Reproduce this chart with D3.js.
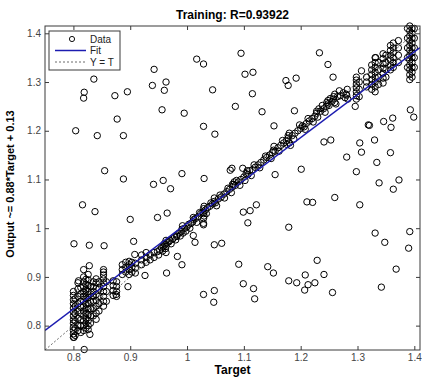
<!DOCTYPE html>
<html>
<head>
<meta charset="utf-8">
<script src="https://cdn.jsdelivr.net/npm/d3@7"></script>
<style>
  body { margin: 0; background: #fff; }
  text { font-family: "Liberation Sans", Arial, sans-serif; }
</style>
</head>
<body>
<div id="chart"></div>
<script>
// Points far from the fit line [target, output]
var outlierPts = [
  [1.017, 1.347], [1.029, 1.337], [0.942, 1.326], [0.836, 1.306], [0.819, 1.279],
  [0.818, 1.267], [0.873, 1.272], [0.895, 1.280], [0.939, 1.293], [0.963, 1.300],
  [0.960, 1.283], [0.956, 1.243], [0.995, 1.236], [0.877, 1.224], [1.045, 1.284],
  [1.095, 1.359], [1.233, 1.360], [1.248, 1.336], [1.102, 1.316], [1.116, 1.320],
  [1.174, 1.303], [1.178, 1.293], [1.192, 1.308], [1.257, 1.310], [1.115, 1.276],
  [1.085, 1.250], [1.132, 1.239], [1.189, 1.241], [1.307, 1.323], [1.332, 1.350],
  [1.296, 1.250], [1.393, 1.243], [1.399, 1.228], [1.362, 1.226], [1.346, 1.219],
  [1.319, 1.212], [1.359, 1.207], [0.804, 1.200], [0.842, 1.190], [0.888, 1.190],
  [1.029, 1.209], [0.855, 1.118], [0.888, 1.101], [0.941, 1.090], [0.958, 1.098],
  [0.971, 1.081], [0.991, 1.112], [1.030, 1.102], [0.816, 1.048], [0.838, 1.034],
  [0.900, 1.018], [0.948, 1.022], [0.965, 1.031], [0.801, 0.968], [0.828, 0.965],
  [0.854, 0.964], [0.906, 0.973], [1.011, 0.985], [1.014, 0.971], [1.153, 1.210],
  [1.049, 1.193], [1.321, 1.211], [1.241, 1.177], [1.253, 1.181], [1.304, 1.175],
  [1.330, 1.181], [1.307, 1.156], [1.358, 1.155], [1.281, 1.146], [1.334, 1.135],
  [1.201, 1.121], [1.298, 1.116], [1.155, 1.110], [1.079, 1.123], [1.076, 1.119],
  [1.098, 1.123], [1.338, 1.093], [1.373, 1.099], [1.363, 1.080], [1.260, 1.063],
  [1.211, 1.054], [1.221, 1.053], [1.304, 1.048], [1.122, 1.048], [1.111, 1.036],
  [1.099, 1.033], [1.107, 1.011], [1.179, 1.002], [1.331, 0.990], [1.348, 0.971],
  [1.392, 0.993], [1.390, 0.959], [1.061, 0.969], [1.048, 0.966], [0.908, 0.946],
  [0.963, 0.950], [0.983, 0.942], [0.991, 0.925], [0.964, 0.908], [0.926, 0.903],
  [1.029, 0.864], [0.809, 0.892], [0.896, 0.880], [0.875, 0.864], [0.829, 0.782],
  [0.819, 0.751], [0.801, 0.776], [0.828, 0.923], [0.826, 0.905], [1.091, 0.926],
  [1.142, 0.921], [1.152, 0.908], [1.229, 0.934], [1.099, 0.886], [1.117, 0.876],
  [1.119, 0.855], [1.048, 0.872], [1.047, 0.848], [1.179, 0.892], [1.193, 0.888],
  [1.208, 0.904], [1.207, 0.873], [1.213, 0.884], [1.225, 0.888], [1.241, 0.905],
  [1.256, 0.868], [1.342, 0.879], [1.368, 0.916], [1.029, 1.007], [0.982, 0.983]
];

// Dense columns near the line: [target, outputs]
var bandCols = [
  [0.800, [0.776, 0.783, 0.790, 0.797, 0.805, 0.812, 0.820, 0.828, 0.836, 0.845, 0.853, 0.862, 0.870]],
  [0.803, [0.780, 0.795, 0.810, 0.825, 0.840, 0.855]],
  [0.808, [0.790, 0.800, 0.815, 0.830, 0.845, 0.860, 0.875, 0.888]],
  [0.813, [0.786, 0.800, 0.812, 0.825, 0.838, 0.850, 0.865, 0.878]],
  [0.818, [0.790, 0.800, 0.810, 0.820, 0.830, 0.840, 0.850, 0.860, 0.870, 0.880, 0.890, 0.900, 0.915]],
  [0.822, [0.795, 0.805, 0.815, 0.825, 0.835, 0.845, 0.855, 0.865, 0.875, 0.885, 0.895]],
  [0.826, [0.792, 0.800, 0.810, 0.822, 0.834, 0.846, 0.858, 0.870, 0.882, 0.894]],
  [0.830, [0.805, 0.820, 0.835, 0.850, 0.865, 0.880]],
  [0.835, [0.820, 0.835, 0.850, 0.860, 0.870, 0.880, 0.890]],
  [0.840, [0.813, 0.826, 0.840, 0.852, 0.864, 0.876, 0.888, 0.896]],
  [0.845, [0.830, 0.845, 0.860, 0.875, 0.890]],
  [0.853, [0.840, 0.850, 0.860, 0.870, 0.880, 0.888, 0.896, 0.904, 0.910, 0.915]],
  [0.858, [0.850, 0.870, 0.890]],
  [0.870, [0.862, 0.872, 0.882, 0.892]],
  [0.876, [0.860, 0.870, 0.880, 0.890]],
  [0.886, [0.905, 0.915, 0.925]],
  [0.892, [0.910, 0.920, 0.930]],
  [0.898, [0.905, 0.915, 0.925, 0.932]],
  [0.903, [0.910, 0.920, 0.930]],
  [0.909, [0.908, 0.918, 0.928]],
  [0.920, [0.925, 0.935, 0.945]],
  [0.928, [0.930, 0.940, 0.950]],
  [0.935, [0.935, 0.945]],
  [0.942, [0.940, 0.950]],
  [1.298, [1.265, 1.272, 1.280, 1.288, 1.296, 1.304, 1.310]],
  [1.303, [1.270, 1.285, 1.300]],
  [1.316, [1.290, 1.300, 1.310]],
  [1.325, [1.285, 1.295, 1.305, 1.315, 1.325, 1.335]],
  [1.331, [1.280, 1.290, 1.300, 1.310, 1.320, 1.330, 1.340, 1.350]],
  [1.337, [1.295, 1.310, 1.325, 1.340]],
  [1.345, [1.298, 1.308, 1.318, 1.328, 1.338, 1.348, 1.358]],
  [1.350, [1.310, 1.325, 1.340, 1.355]],
  [1.358, [1.325, 1.335, 1.345, 1.355, 1.365, 1.375]],
  [1.363, [1.330, 1.340, 1.350, 1.360, 1.370, 1.380]],
  [1.372, [1.340, 1.355, 1.370, 1.385]],
  [1.388, [1.330, 1.350, 1.370, 1.390, 1.410]],
  [1.392, [1.305, 1.315, 1.325, 1.335, 1.345, 1.355, 1.365, 1.375, 1.385, 1.395, 1.405, 1.415]],
  [1.396, [1.310, 1.320, 1.330, 1.340, 1.350, 1.360, 1.370, 1.380, 1.390, 1.400, 1.410]],
  [1.400, [1.330, 1.350, 1.370, 1.390, 1.410]]
];

// Points along the middle of the band [target, output]
var bandPts = [
  [0.948, 0.952], [0.952, 0.955], [0.955, 0.960], [0.958, 0.962], [0.961, 0.966],
  [0.962, 0.958], [0.960, 0.968], [0.963, 0.963], [0.965, 0.970], [0.968, 0.972],
  [0.970, 0.975], [0.975, 0.978], [0.978, 0.982], [0.982, 0.986], [0.986, 0.990],
  [0.990, 0.993], [0.991, 0.998], [0.993, 0.990], [0.996, 1.000], [1.000, 1.003],
  [1.003, 1.008], [1.007, 1.010], [1.010, 1.013], [1.012, 1.018], [1.015, 1.020],
  [1.020, 1.024], [1.024, 1.030], [1.028, 1.033], [1.029, 1.040], [1.030, 1.025],
  [1.029, 1.020], [1.029, 1.030], [1.030, 1.045], [1.029, 1.010], [1.032, 1.037],
  [1.036, 1.042], [1.040, 1.045], [1.045, 1.050], [1.048, 1.055], [1.050, 1.052],
  [1.055, 1.060], [1.060, 1.064], [1.065, 1.070], [1.070, 1.075], [1.075, 1.080],
  [1.080, 1.085], [1.082, 1.090], [1.080, 1.090], [1.083, 1.095], [1.085, 1.088],
  [1.090, 1.095], [1.095, 1.100], [1.100, 1.105], [1.104, 1.112], [1.107, 1.110],
  [1.110, 1.118], [1.115, 1.120], [1.120, 1.125], [1.125, 1.130], [1.130, 1.135],
  [1.135, 1.140], [1.140, 1.145], [1.145, 1.150], [1.150, 1.155], [1.152, 1.160],
  [1.155, 1.158], [1.160, 1.165], [1.165, 1.170], [1.170, 1.175], [1.175, 1.180],
  [1.178, 1.185], [1.180, 1.175], [1.178, 1.190], [1.180, 1.195], [1.182, 1.170],
  [1.185, 1.190], [1.190, 1.195], [1.195, 1.200], [1.200, 1.205], [1.203, 1.210],
  [1.206, 1.208], [1.210, 1.215], [1.215, 1.220], [1.220, 1.225], [1.225, 1.230],
  [1.228, 1.236], [1.230, 1.228], [1.228, 1.240], [1.232, 1.245], [1.235, 1.240],
  [1.240, 1.245], [1.245, 1.250], [1.246, 1.258], [1.248, 1.255], [1.248, 1.262],
  [1.250, 1.252], [1.255, 1.260], [1.258, 1.265], [1.258, 1.270], [1.260, 1.258],
  [1.260, 1.275], [1.265, 1.270], [1.270, 1.272], [1.275, 1.278], [1.280, 1.275],
  [1.281, 1.273], [1.283, 1.265], [1.282, 1.285],
  // second row, slightly under / over the first
  [0.950, 0.945], [0.957, 0.953], [0.963, 0.975], [0.972, 0.968], [0.980, 0.976],
  [0.988, 0.984], [0.992, 1.005], [0.998, 0.994], [1.005, 1.000], [1.011, 1.022],
  [1.017, 1.012], [1.022, 1.032], [1.034, 1.030], [1.042, 1.052], [1.048, 1.062],
  [1.052, 1.046], [1.058, 1.068], [1.066, 1.062], [1.072, 1.082], [1.078, 1.073],
  [1.087, 1.098], [1.093, 1.088], [1.102, 1.098], [1.106, 1.118], [1.113, 1.108],
  [1.118, 1.130], [1.128, 1.124], [1.138, 1.148], [1.148, 1.143], [1.153, 1.168],
  [1.162, 1.158], [1.168, 1.180], [1.176, 1.172], [1.188, 1.183], [1.198, 1.212],
  [1.208, 1.203], [1.213, 1.225], [1.222, 1.218], [1.238, 1.252], [1.243, 1.238],
  [1.252, 1.266], [1.262, 1.255], [1.268, 1.282], [1.278, 1.268]
];

var fitSlope = 0.88;
var fitIntercept = 0.13;
var xTicks = [0.8, 0.9, 1, 1.1, 1.2, 1.3, 1.4];
var yTicks = [0.8, 0.9, 1, 1.1, 1.2, 1.3, 1.4];
var legendLabels = ['Data', 'Fit', 'Y = T'];

var chartWidth = 422;
var chartHeight = 378;
var margin = {top: 26, right: 2, bottom: 28, left: 45};
var plotW = chartWidth - margin.left - margin.right;
var plotH = chartHeight - margin.top - margin.bottom;

// Build point list
var data = outlierPts.slice();
bandCols.forEach(function(c) {
  c[1].forEach(function(o) { data.push([c[0], o]); });
});
bandPts.forEach(function(p) { data.push(p); });

var svg = d3.select('#chart')
    .append('svg')
    .attr('width', chartWidth)
    .attr('height', chartHeight);

var scaleX = d3.scaleLinear()
    .domain([0.75, 1.41])
    .range([margin.left, margin.left + plotW]);

var scaleY = d3.scaleLinear()
    .domain([0.75, 1.415])
    .range([margin.top + plotH, margin.top]);

var fmt = function(d) { return String(d); };
var axisColor = '#3a3a3a';

svg.append('defs').append('clipPath')
    .attr('id', 'plotclip')
    .append('rect')
    .attr('x', margin.left)
    .attr('y', margin.top)
    .attr('width', plotW)
    .attr('height', plotH);

// Create Circles
svg.append('g')
    .selectAll('circle')
    .data(data)
    .enter()
    .append('circle')
    .attr('cx', function(d) { return scaleX(d[0]); })
    .attr('cy', function(d) { return scaleY(d[1]); })
    .attr('r', 3.2)
    .attr('fill', 'none')
    .attr('stroke', '#000')
    .attr('stroke-width', 1);

// Fit line and Y = T line
var xDom = scaleX.domain();
var lines = svg.append('g').attr('clip-path', 'url(#plotclip)');
lines.append('line')
    .attr('x1', scaleX(xDom[0]))
    .attr('y1', scaleY(fitSlope * xDom[0] + fitIntercept))
    .attr('x2', scaleX(xDom[1]))
    .attr('y2', scaleY(fitSlope * xDom[1] + fitIntercept))
    .attr('stroke', '#1c1cb0')
    .attr('stroke-width', 1.5);
lines.append('line')
    .attr('x1', scaleX(xDom[0]))
    .attr('y1', scaleY(xDom[0]))
    .attr('x2', scaleX(xDom[1]))
    .attr('y2', scaleY(xDom[1]))
    .attr('stroke', '#444')
    .attr('stroke-width', 0.8)
    .attr('stroke-dasharray', '2,2');

// Axes (ticks inward on all sides)
function styleAxis(g) {
  g.select('.domain').remove();
  g.selectAll('.tick line').attr('stroke', axisColor);
  g.selectAll('.tick text')
      .attr('fill', '#444')
      .style('font-size', '10px')
      .style('font-family', '"Liberation Sans", Arial, sans-serif');
}

svg.append('g')
    .attr('transform', 'translate(0,' + (margin.top + plotH) + ')')
    .call(d3.axisBottom(scaleX).tickValues(xTicks).tickFormat(fmt)
        .tickSizeInner(-4).tickSizeOuter(0).tickPadding(4))
    .call(styleAxis);

svg.append('g')
    .attr('transform', 'translate(0,' + margin.top + ')')
    .call(d3.axisTop(scaleX).tickValues(xTicks).tickFormat('')
        .tickSizeInner(-4).tickSizeOuter(0))
    .call(styleAxis);

svg.append('g')
    .attr('transform', 'translate(' + margin.left + ',0)')
    .call(d3.axisLeft(scaleY).tickValues(yTicks).tickFormat(fmt)
        .tickSizeInner(-4).tickSizeOuter(0).tickPadding(4))
    .call(styleAxis);

svg.append('g')
    .attr('transform', 'translate(' + (margin.left + plotW) + ',0)')
    .call(d3.axisRight(scaleY).tickValues(yTicks).tickFormat('')
        .tickSizeInner(-4).tickSizeOuter(0))
    .call(styleAxis);

// Frame
svg.append('rect')
    .attr('x', margin.left)
    .attr('y', margin.top)
    .attr('width', plotW)
    .attr('height', plotH)
    .attr('fill', 'none')
    .attr('stroke', axisColor)
    .attr('stroke-width', 1);

// Title and labels
svg.append('text')
    .attr('x', margin.left + plotW / 2)
    .attr('y', 19)
    .attr('text-anchor', 'middle')
    .style('font-size', '12px')
    .style('font-weight', 'bold')
    .text('Training: R=0.93922');

svg.append('text')
    .attr('x', margin.left + plotW / 2)
    .attr('y', 374)
    .attr('text-anchor', 'middle')
    .style('font-size', '12px')
    .style('font-weight', 'bold')
    .text('Target');

svg.append('text')
    .attr('transform', 'translate(13.5,' + 184 + ') rotate(-90)')
    .attr('text-anchor', 'middle')
    .style('font-size', '11px')
    .style('font-weight', 'bold')
    .text('Output ~= ' + fitSlope + '*Target + ' + fitIntercept);

// Legend
var legend = svg.append('g').attr('transform', 'translate(49,31)');
legend.append('rect')
    .attr('width', 71)
    .attr('height', 39)
    .attr('fill', '#fff')
    .attr('stroke', axisColor)
    .attr('stroke-width', 1);

var legItems = legend.selectAll('g.item')
    .data(legendLabels)
    .enter()
    .append('g')
    .attr('class', 'item')
    .attr('transform', function(d, i) { return 'translate(0,' + (8 + i * 11.5) + ')'; });

legItems.append('text')
    .attr('x', 41)
    .attr('y', 3.5)
    .attr('fill', '#222')
    .style('font-size', '10px')
    .text(function(d) { return d; });

legItems.filter(function(d, i) { return i === 0; })
    .append('circle')
    .attr('cx', 23)
    .attr('cy', 0)
    .attr('r', 2.6)
    .attr('fill', 'none')
    .attr('stroke', '#111');

legItems.filter(function(d, i) { return i === 1; })
    .append('line')
    .attr('x1', 6).attr('x2', 37)
    .attr('stroke', '#1c1cb0')
    .attr('stroke-width', 1.5);

legItems.filter(function(d, i) { return i === 2; })
    .append('line')
    .attr('x1', 6).attr('x2', 37)
    .attr('stroke', '#444')
    .attr('stroke-width', 0.8)
    .attr('stroke-dasharray', '2,2');
</script>
</body>
</html>
